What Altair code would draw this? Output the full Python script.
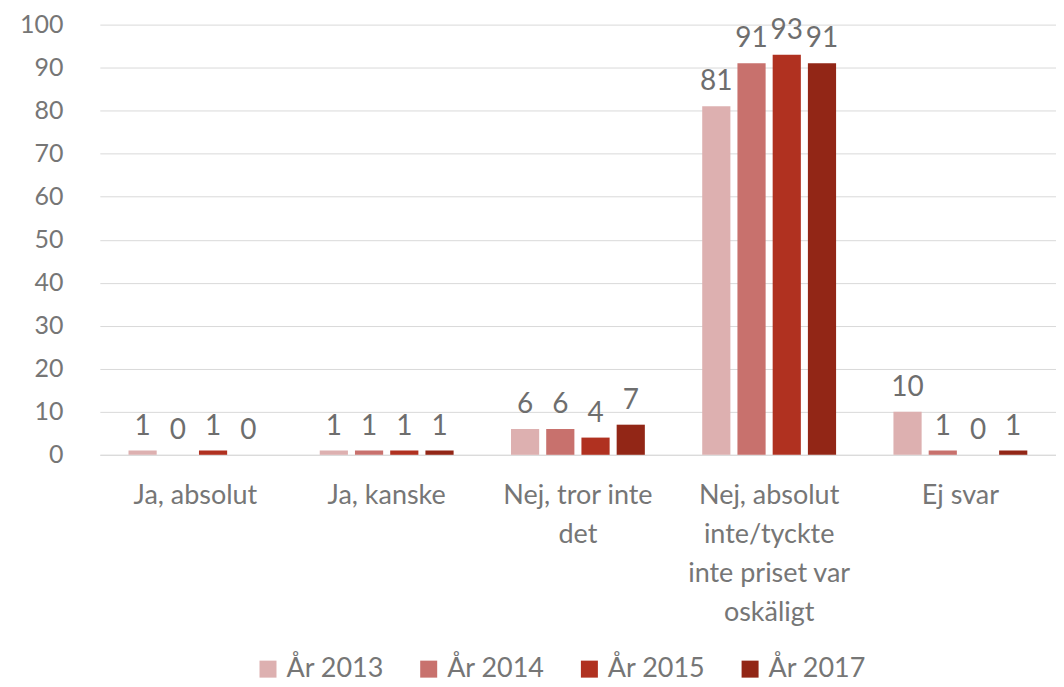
import altair as alt
import pandas as pd

categories = ["Ja, absolut", "Ja, kanske", "Nej, tror inte\ndet",
              "Nej, absolut\ninte/tyckte\ninte priset var\noskäligt", "Ej svar"]
series = ["År 2013", "År 2014", "År 2015", "År 2017"]
values = {
    "År 2013": [1, 1, 6, 81, 10],
    "År 2014": [0, 1, 6, 91, 1],
    "År 2015": [1, 1, 4, 93, 0],
    "År 2017": [0, 1, 7, 91, 1],
}
colors = ["#DDB0B0", "#C8716D", "#B03120", "#922616"]

rows = []
for s in series:
    for c, v in zip(categories, values[s]):
        rows.append({"cat": c, "series": s, "value": v})
df = pd.DataFrame(rows)

FONT = "Lato"
GRAY = "#767676"

x = alt.X("cat:N", sort=categories,
          scale=alt.Scale(paddingInner=0.3, paddingOuter=0.15),
          axis=alt.Axis(title=None, labelAngle=0, labelFontSize=27, labelColor=GRAY,
                        labelFont=FONT, ticks=False, domainColor="#D9D9D9",
                        labelPadding=28, labelLineHeight=39, labelBaseline="top",
                        labelExpr="split(datum.label, '\\n')"))
xo = alt.XOffset("series:N", sort=series, scale=alt.Scale(paddingInner=0.2, paddingOuter=0))
y = alt.Y("value:Q", scale=alt.Scale(domain=[0, 100]),
          axis=alt.Axis(title=None, values=list(range(0, 101, 10)), labelFontSize=25,
                        labelColor=GRAY, labelFont=FONT, ticks=False, domain=False,
                        gridColor="#D9D9D9", labelPadding=37))

bars = alt.Chart(df).mark_bar().encode(
    x=x, xOffset=xo, y=y,
    color=alt.Color("series:N", sort=series,
                    scale=alt.Scale(domain=series, range=colors),
                    legend=alt.Legend(title=None, orient="none", direction="horizontal",
                                      legendX=155, legendY=632,
                                      symbolType="square", symbolSize=290,
                                      labelFontSize=27, labelColor=GRAY, labelFont=FONT,
                                      columnPadding=31, symbolStrokeWidth=0,
                                      labelOffset=5)),
)
text = alt.Chart(df).mark_text(baseline="bottom", dy=-10, fontSize=28, font=FONT,
                               color="#6E6E6E").encode(
    x=alt.X("cat:N", sort=categories), xOffset=alt.XOffset("series:N", sort=series),
    y="value:Q", text="value:Q")

chart = (bars + text).properties(
    width=958, height=431,
    autosize=alt.AutoSizeParams(type="none"),
    padding={"left": 92, "top": 16, "right": 0, "bottom": 230},
).configure_view(stroke=None)

chart.save("out.html", embed_options={"renderer": "svg", "actions": False})
